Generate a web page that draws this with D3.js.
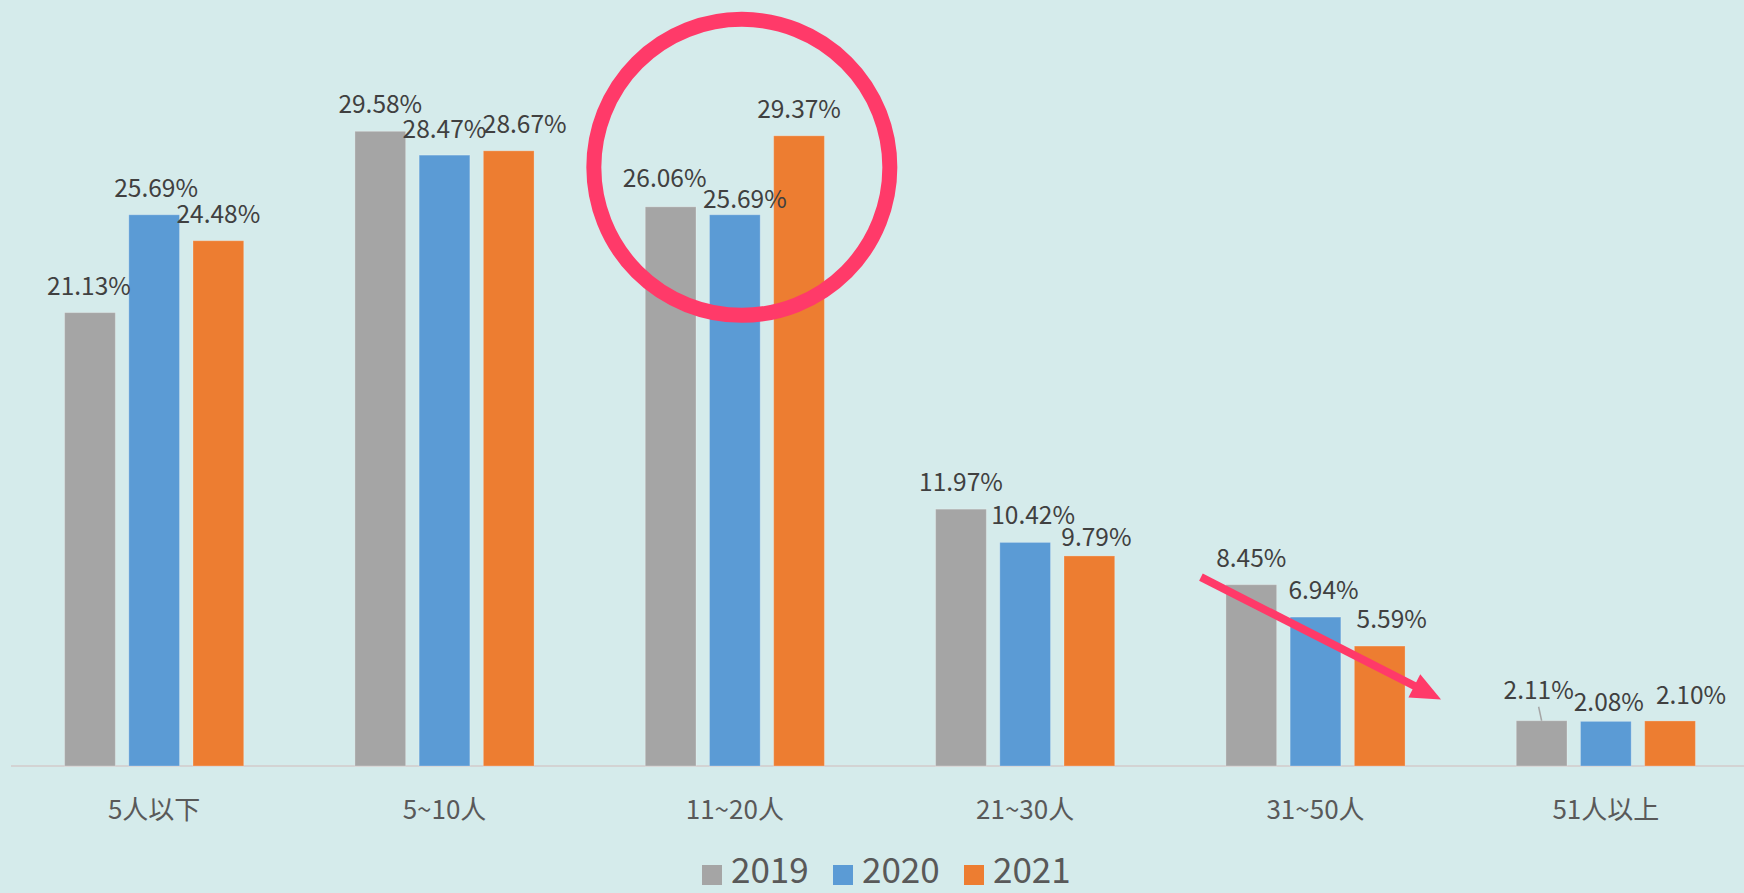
<!DOCTYPE html>
<html>
<head>
<meta charset="utf-8">
<script src="https://cdn.jsdelivr.net/npm/d3@7"></script>
<style>
  body { margin: 0; background: #d5ebeb; }
  svg { display: block; }
  text { font-family: "Noto Sans CJK TC", "Noto Sans", sans-serif; }
</style>
</head>
<body>
<div class="canva"></div>
<script>
// data
const categories = ['5人以下', '5~10人', '11~20人', '21~30人', '31~50人', '51人以上'];
const years = ['2019', '2020', '2021'];
const values2019 = [21.13, 29.58, 26.06, 11.97, 8.45, 2.11];
const values2020 = [25.69, 28.47, 25.69, 10.42, 6.94, 2.08];
const values2021 = [24.48, 28.67, 29.37, 9.79, 5.59, 2.10];

const colors = ['#a5a5a5', '#5b9bd5', '#ed7d31'];

// label nudges (px) where labels were moved to avoid overlap
const nudge2019 = [[-1, 0], [0, 0], [-6, -2], [0, 0], [0, 0], [-3, -4]];
const nudge2020 = [[2, 0], [0, 1], [10, 11], [8, 0], [8, 0], [3, 8]];
const nudge2021 = [[0, 0], [16, 0], [0, 0], [7, 8], [12, 0], [21, 1]];

const series = [values2019, values2020, values2021];
const nudges = [nudge2019, nudge2020, nudge2021];

const table = categories.map((c, i) => ({
  cat: c,
  items: years.map((y, j) => ({ year: y, j: j, value: series[j][i], nudge: nudges[j][i] }))
}));

const width = 1744, height = 893;

const svg = d3.select('.canva').append('svg')
  .attr('width', width)
  .attr('height', height);

svg.append('rect')
  .attr('width', width).attr('height', height)
  .attr('fill', '#d5ebeb');

// scales
const x0 = d3.scaleBand()
  .domain(categories)
  .range([9, 1751])
  .paddingInner(0.383)
  .paddingOuter(0.1915);

const x1 = d3.scaleBand()
  .domain(years)
  .range([0, x0.bandwidth()])
  .paddingInner(0.21);

const y = d3.scaleLinear()
  .domain([0, 35])
  .range([766, 15]);

// baseline
svg.append('line')
  .attr('x1', 11).attr('x2', width)
  .attr('y1', y(0)).attr('y2', y(0))
  .attr('stroke', '#d3d3d3')
  .attr('stroke-width', 2);

const groups = svg.selectAll('.group')
  .data(table)
  .enter().append('g')
  .attr('class', 'group')
  .attr('transform', d => `translate(${x0(d.cat)},0)`);

groups.selectAll('rect')
  .data(d => d.items)
  .enter().append('rect')
  .attr('x', d => x1(d.year))
  .attr('y', d => y(d.value))
  .attr('width', x1.bandwidth())
  .attr('height', d => y(0) - y(d.value))
  .attr('fill', d => colors[d.j])
  .attr('stroke', 'rgba(255,255,255,0.25)')
  .attr('stroke-width', 1);

// value labels
groups.selectAll('.val')
  .data(d => d.items)
  .enter().append('text')
  .attr('class', 'val')
  .attr('x', d => x1(d.year) + x1.bandwidth() / 2 + d.nudge[0])
  .attr('y', d => y(d.value) - 18 + d.nudge[1])
  .attr('text-anchor', 'middle')
  .attr('font-size', 24.5)
  .attr('fill', '#404040')
  .text(d => d.value.toFixed(2) + '%');

// leader line for the moved 2.11% label
const lastCat = categories[5];
svg.append('line')
  .attr('x1', x0(lastCat) + x1('2019') + x1.bandwidth() / 2 - 3)
  .attr('x2', x0(lastCat) + x1('2019') + x1.bandwidth() / 2)
  .attr('y1', y(values2019[5]) - 14)
  .attr('y2', y(values2019[5]))
  .attr('stroke', '#a5a5a5')
  .attr('stroke-width', 1.5);

// category axis labels
svg.selectAll('.cat')
  .data(categories)
  .enter().append('text')
  .attr('class', 'cat')
  .attr('x', d => x0(d) + x0.bandwidth() / 2)
  .attr('y', 819)
  .attr('text-anchor', 'middle')
  .attr('font-size', 26)
  .attr('fill', '#595959')
  .text(d => d);

// legend
const legend = svg.append('g')
  .attr('transform', 'translate(702,875)');

const li = legend.selectAll('g')
  .data(years)
  .enter().append('g')
  .attr('transform', (d, i) => `translate(${i * 131},0)`);

li.append('rect')
  .attr('x', 0).attr('y', -10)
  .attr('width', 20).attr('height', 20)
  .attr('fill', (d, i) => colors[i]);

li.append('text')
  .attr('x', 29)
  .attr('y', 8)
  .attr('font-size', 35)
  .attr('fill', '#595959')
  .text(d => d);

// annotations: circle round 11~20人 group
const c3 = categories[2];
svg.append('circle')
  .attr('cx', x0(c3) + x0.bandwidth() / 2 + 7)
  .attr('cy', y(27.9))
  .attr('r', 148)
  .attr('fill', 'none')
  .attr('stroke', '#ff3a69')
  .attr('stroke-width', 15);

// arrow across 31~50人 group
const c5 = categories[4];
const ax1 = x0(c5) - 25, ay1 = y(8.8);
const ax2 = x0(c5) + x0.bandwidth() + 36, ay2 = y(3.1);
const ang = Math.atan2(ay2 - ay1, ax2 - ax1);
const headLen = 30, headW = 13;
const bx = ax2 - headLen * Math.cos(ang), by = ay2 - headLen * Math.sin(ang);

svg.append('line')
  .attr('x1', ax1).attr('y1', ay1)
  .attr('x2', bx + 2 * Math.cos(ang)).attr('y2', by + 2 * Math.sin(ang))
  .attr('stroke', '#ff3a69')
  .attr('stroke-width', 8);

svg.append('path')
  .attr('d', d3.line()([
    [ax2, ay2],
    [bx + headW * Math.sin(ang), by - headW * Math.cos(ang)],
    [bx - headW * Math.sin(ang), by + headW * Math.cos(ang)]
  ]) + 'Z')
  .attr('fill', '#ff3a69');
</script>
</body>
</html>
